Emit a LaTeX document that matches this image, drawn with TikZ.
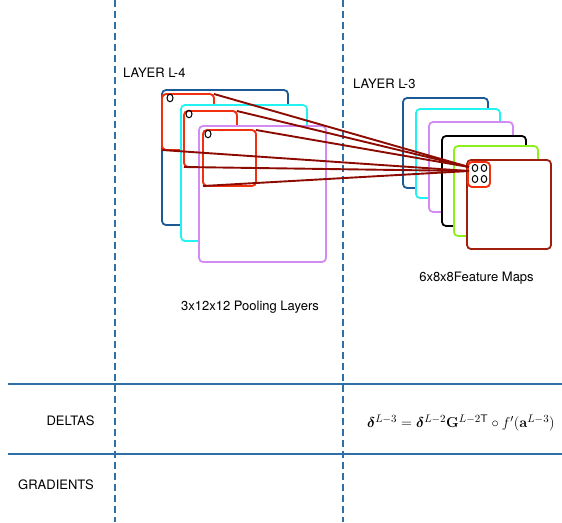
\documentclass[tikz,border=0pt]{standalone}
\usepackage{amsmath,amssymb,bm}
\usepackage[no-math]{fontspec}
\setmainfont{TeX Gyre Heros}
\definecolor{gridblue}{HTML}{2F6FA8}
\definecolor{mapblue}{HTML}{1B5A96}
\definecolor{mapcyan}{HTML}{22F2F2}
\definecolor{mapviolet}{HTML}{D38AF2}
\definecolor{mapgreen}{HTML}{8CF01A}
\definecolor{mapbrown}{HTML}{A01E0C}
\definecolor{winred}{HTML}{F0300F}
\definecolor{linkred}{HTML}{8C0A00}
\tikzset{
  map/.style={draw=#1,fill=white,rounded corners=4pt,line width=1.8pt,
    anchor=north west,inner sep=0pt,outer sep=0pt},
  win/.style={map=winred,fill=none,line width=1.9pt},
  unit/.style={draw,ellipse,inner sep=0pt,minimum width=6pt,
    minimum height=7.5pt,line width=1pt},
  link/.style={draw=linkred,line width=1.9pt},
  grid/.style={draw=gridblue,line width=1.4pt},
  lbl/.style={inner sep=0pt,font=\fontsize{13}{15}\selectfont}
}
\usetikzlibrary{shapes.geometric}
\begin{document}
\begin{tikzpicture}[x=1pt,y=-1pt]
  \useasboundingbox (0,0) rectangle (562,522);
  % section rules
  \coordinate (r1w) at (8,384);   \coordinate (r1e) at (562,384);
  \coordinate (r2w) at (8,454);   \coordinate (r2e) at (562,454);
  \draw[grid] (r1w)--(r1e);
  \draw[grid] (r2w)--(r2e);
  \coordinate (d1n) at (115,0);   \coordinate (d1s) at (115,522);
  \coordinate (d2n) at (343,0);   \coordinate (d2s) at (343,522);
  \draw[grid,line width=1.3pt,dash pattern=on 7pt off 4pt] (d1n)--(d1s);
  \draw[grid,line width=1.3pt,dash pattern=on 7pt off 4pt] (d2n)--(d2s);
  % layer L-4
  \node[lbl,anchor=base west] (l4) at (123,77) {LAYER L-4};
  \node[map=mapblue,minimum width=126pt,minimum height=135pt] (p1) at (162,90) {};
  \node[win,minimum width=52pt,minimum height=56pt] (w1) at (162,94) {};
  \node[map=mapcyan,minimum width=126pt,minimum height=136pt] (p2) at (181,105) {};
  \node[win,minimum width=53pt,minimum height=56pt] (w2) at (184,111) {};
  \node[map=mapviolet,minimum width=127pt,minimum height=136pt] (p3) at (199,126) {};
  \node[win,minimum width=53pt,minimum height=56pt] (w3) at (203,130) {};
  \node[unit] (u1) at (170,98) {};
  \node[unit] (u2) at (189,114) {};
  \node[unit] (u3) at (208,134) {};
  \node[lbl,anchor=base] (pl) at (250,310) {3x12x12 Pooling Layers};
  % layer L-3
  \node[lbl,anchor=base west] (l3) at (353,88.5) {LAYER L-3};
  \node[map=mapblue,minimum width=85pt,minimum height=90pt] (f1) at (403,98) {};
  \node[map=mapcyan,minimum width=84pt,minimum height=89pt] (f2) at (416,109) {};
  \node[map=mapviolet,minimum width=84pt,minimum height=90pt] (f3) at (429,122) {};
  \node[map=black,minimum width=84pt,minimum height=90pt] (f4) at (442,136) {};
  \node[map=mapgreen,minimum width=84pt,minimum height=90pt] (f5) at (454,146) {};
  \node[map=mapbrown,minimum width=84pt,minimum height=89pt] (f6) at (467,160) {};
  \node[win,minimum width=22pt,minimum height=25pt] (fw) at (468,162) {};
  \foreach \i/\x/\y in {a/475/168,b/484/168,c/475/179,d/484/179}
    \node[unit,minimum width=5.5pt,minimum height=7pt] (v\i) at (\x,\y) {};
  \node[lbl,anchor=base] (fm) at (476.5,281) {6x8x8Feature Maps};
  % connections
  \coordinate (hitA) at (469,167);
  \coordinate (hitB) at (469,171);
  \draw[link] (w1.north east)--(hitA);
  \draw[link] (w2.north east)--(hitA);
  \draw[link] (w3.north east)--(hitA);
  \draw[link] (w1.south west)--(hitB);
  \draw[link] (w2.south west)--(hitB);
  \draw[link] (w3.south west)--(hitB);
  % rows
  \node[lbl,anchor=base] (dl) at (70.5,425) {DELTAS};
  \node[lbl,anchor=base] (gr) at (56,489) {GRADIENTS};
  \node[inner sep=0pt,anchor=base west,font=\fontsize{15.8}{18}\selectfont] (eq) at (367,427.5)
    {$\bm{\delta}^{L-3}=\bm{\delta}^{L-2}\mathbf{G}^{L-2\mathsf{T}}\circ f'(\mathbf{a}^{L-3})$};
\end{tikzpicture}
\end{document}
